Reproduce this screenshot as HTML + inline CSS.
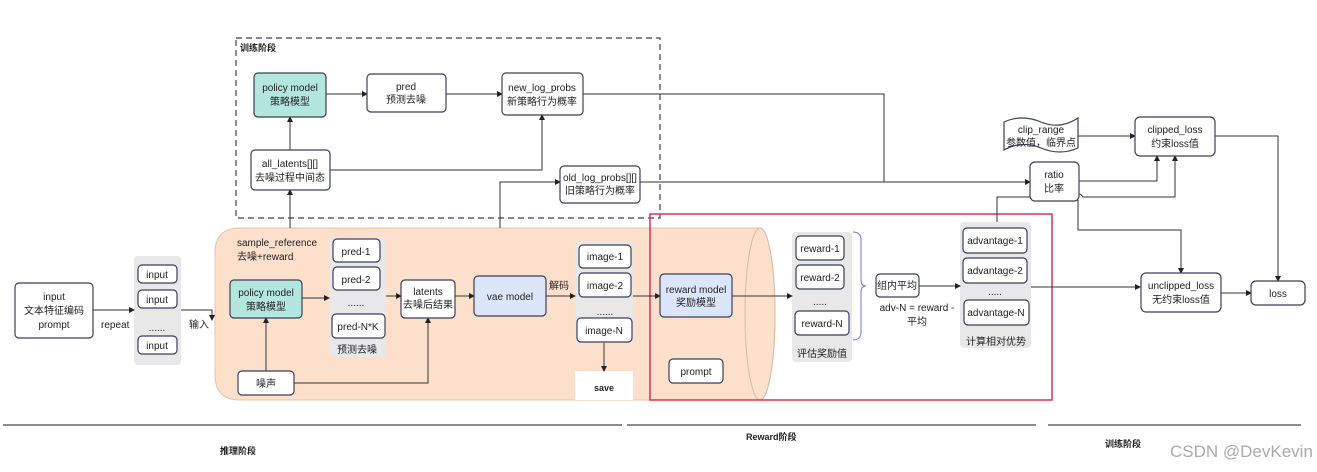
<!DOCTYPE html>
<html><head><meta charset="utf-8"><style>
html,body{margin:0;padding:0;background:#fff;}
svg{display:block;}
text{font-family:"Liberation Sans","Noto Sans CJK SC",sans-serif;font-size:10px;fill:#222;}
</style></head><body>
<svg width="1317" height="472" viewBox="0 0 1317 472" xmlns="http://www.w3.org/2000/svg">
<defs>
<marker id="a" markerWidth="6" markerHeight="6" refX="5" refY="3" orient="auto"><path d="M0,0 L6,3 L0,6z" fill="#222"/></marker>
</defs>
<!-- dashed training box -->
<rect x="236" y="38" width="424" height="180" fill="none" stroke="#3a3f5c" stroke-width="1.2" stroke-dasharray="6,4"/>
<text x="240" y="51" style="font-size:9px;font-weight:bold">训练阶段</text>
<!-- cylinder -->
<path d="M240,228 L760,228 A15,86 0 0 1 760,400 L240,400 Q215,400 215,375 L215,253 Q215,228 240,228z" fill="#fde0cc" stroke="#e6c0a8"/>
<ellipse cx="760" cy="314" rx="15" ry="86" fill="#fde0cc" stroke="#d9b8a2"/>
<!-- red rect -->
<rect x="650" y="214" width="402" height="186" fill="none" stroke="#e0304a" stroke-width="1.5"/>
<!-- gray stacks -->
<rect x="134" y="256" width="47" height="109" rx="4" fill="#e8e8e8"/>
<rect x="329" y="237" width="57" height="120" rx="4" fill="#e8e8e8"/>
<rect x="575" y="242" width="58" height="101" rx="4" fill="#e8e8e8"/>
<rect x="575" y="371" width="58" height="29" fill="#fff"/>
<rect x="792" y="232" width="60" height="130" rx="4" fill="#e8e8e8"/>
<rect x="960" y="222" width="71" height="126" rx="4" fill="#e8e8e8"/>
<!-- lines -->
<g stroke="#333" stroke-width="1" fill="none">
<path d="M93,310 H134" marker-end="url(#a)"/>
<path d="M181,310 H212 V320" marker-end="url(#a)"/>
<path d="M302,298 H329" marker-end="url(#a)"/>
<path d="M386,296 H401" marker-end="url(#a)"/>
<path d="M455,296 H474" marker-end="url(#a)"/>
<path d="M546,296 H575" marker-end="url(#a)"/>
<path d="M633,296 H660" marker-end="url(#a)"/>
<path d="M604,343 V371" marker-end="url(#a)"/>
<path d="M266,371 V318" marker-end="url(#a)"/>
<path d="M294,383 H428 V318" marker-end="url(#a)"/>
<path d="M290,228 V190" marker-end="url(#a)"/>
<path d="M290,150 V117" marker-end="url(#a)"/>
<path d="M330,170 H542 V115" marker-end="url(#a)"/>
<path d="M326,94 H367" marker-end="url(#a)"/>
<path d="M446,94 H502" marker-end="url(#a)"/>
<path d="M583,94 H884 V182"/>
<path d="M640,182 H1030" marker-end="url(#a)"/>
<path d="M500,228 V182 H560" marker-end="url(#a)"/>
<path d="M732,296 H792" marker-end="url(#a)"/>
<path d="M919,286 H960" marker-end="url(#a)"/>
<path d="M1031,287 H1140" marker-end="url(#a)"/>
<path d="M997,222 V197 H1075 q4,-6 8,0 H1175 V156" marker-end="url(#a)"/>
<path d="M1079,181 H1157 V156" marker-end="url(#a)"/>
<path d="M1078,200 V230 H1181 V273" marker-end="url(#a)"/>
<path d="M1078,136 H1135" marker-end="url(#a)"/>
<path d="M1215,136 H1278 V281" marker-end="url(#a)"/>
<path d="M1221,293 H1251" marker-end="url(#a)"/>
</g>
<path d="M853,232 q8,0 8,8 V280 q0,6 5,6 q-5,0 -5,6 V332 q0,8 -8,8" fill="none" stroke="#6a7fd0"/>
<!-- boxes -->
<g stroke="#3a3f5c" stroke-width="1.2">
<rect x="254" y="73" width="72" height="44" rx="4" fill="#b3e6dc"/>
<rect x="367" y="74" width="79" height="38" rx="4" fill="#fff"/>
<rect x="502" y="73" width="81" height="42" rx="4" fill="#fff"/>
<rect x="251" y="150" width="79" height="40" rx="4" fill="#fff"/>
<rect x="560" y="166" width="80" height="37" rx="4" fill="#fff"/>
<rect x="15" y="283" width="78" height="55" rx="4" fill="#fff"/>
<rect x="138" y="265" width="39" height="18" rx="4" fill="#fff"/>
<rect x="138" y="290" width="39" height="18" rx="4" fill="#fff"/>
<rect x="138" y="336" width="39" height="18" rx="4" fill="#fff"/>
<rect x="230" y="280" width="72" height="38" rx="4" fill="#b3e6dc"/>
<rect x="333" y="239" width="47" height="23" rx="4" fill="#fff"/>
<rect x="333" y="267" width="47" height="23" rx="4" fill="#fff"/>
<rect x="332" y="314" width="53" height="24" rx="4" fill="#fff"/>
<rect x="401" y="280" width="54" height="38" rx="4" fill="#fff"/>
<rect x="474" y="276" width="72" height="40" rx="4" fill="#dbe6fb"/>
<rect x="579" y="245" width="52" height="23" rx="4" fill="#fff"/>
<rect x="579" y="273" width="52" height="24" rx="4" fill="#fff"/>
<rect x="577" y="318" width="55" height="24" rx="4" fill="#fff"/>
<rect x="238" y="371" width="56" height="24" rx="4" fill="#fff"/>
<rect x="660" y="274" width="72" height="43" rx="4" fill="#dbe6fb"/>
<rect x="669" y="359" width="54" height="24" rx="4" fill="#fff"/>
<rect x="796" y="236" width="48" height="24" rx="4" fill="#fff"/>
<rect x="796" y="265" width="48" height="24" rx="4" fill="#fff"/>
<rect x="795" y="311" width="54" height="24" rx="4" fill="#fff"/>
<rect x="876" y="274" width="43" height="23" rx="4" fill="#fff"/>
<rect x="963" y="228" width="64" height="25" rx="4" fill="#fff"/>
<rect x="963" y="258" width="64" height="25" rx="4" fill="#fff"/>
<rect x="964" y="300" width="65" height="25" rx="4" fill="#fff"/>
<path d="M1004,122 q18,-8 37,0 t37,-4 V148 q-18,8 -37,0 t-37,2z" fill="#fff"/>
<rect x="1135" y="117" width="80" height="39" rx="5" fill="#fff"/>
<rect x="1030" y="162" width="49" height="39" rx="5" fill="#fff"/>
<rect x="1141" y="273" width="80" height="39" rx="5" fill="#fff"/>
<rect x="1251" y="281" width="54" height="24" rx="5" fill="#fff"/>
</g>
<!-- text -->
<g text-anchor="middle">
<text x="290" y="91">policy model</text><text x="290" y="105">策略模型</text>
<text x="406" y="90">pred</text><text x="406" y="103">预测去噪</text>
<text x="542" y="91">new_log_probs</text><text x="542" y="105">新策略行为概率</text>
<text x="290" y="167">all_latents[][]</text><text x="290" y="181">去噪过程中间态</text>
<text x="600" y="181">old_log_probs[][]</text><text x="600" y="194">旧策略行为概率</text>
<text x="54" y="300">input</text><text x="54" y="314">文本特征编码</text><text x="54" y="328">prompt</text>
<text x="157" y="278">input</text><text x="157" y="303">input</text><text x="157" y="331">......</text><text x="157" y="349">input</text>
<text x="266" y="296">policy model</text><text x="266" y="310">策略模型</text>
<text x="356" y="255">pred-1</text><text x="356" y="283">pred-2</text><text x="356" y="306">......</text><text x="358" y="330">pred-N*K</text><text x="357" y="353">预测去噪</text>
<text x="428" y="295">latents</text><text x="428" y="308">去噪后结果</text>
<text x="510" y="300">vae model</text>
<text x="605" y="260">image-1</text><text x="605" y="289">image-2</text><text x="605" y="315">......</text><text x="604" y="334">image-N</text>
<text x="604" y="391" style="font-weight:bold;font-size:9px">save</text>
<text x="266" y="387">噪声</text>
<text x="696" y="293">reward model</text><text x="696" y="306">奖励模型</text>
<text x="696" y="375">prompt</text>
<text x="820" y="252">reward-1</text><text x="820" y="281">reward-2</text><text x="820" y="305">.....</text><text x="822" y="327">reward-N</text><text x="822" y="357">评估奖励值</text>
<text x="897" y="289">组内平均</text>
<text x="917" y="311">adv-N = reward -</text><text x="917" y="325">平均</text>
<text x="995" y="244">advantage-1</text><text x="995" y="274">advantage-2</text><text x="995" y="295">.....</text><text x="996" y="316">advantage-N</text><text x="996" y="345">计算相对优势</text>
<text x="1041" y="133">clip_range</text><text x="1041" y="146">参数值，临界点</text>
<text x="1175" y="133">clipped_loss</text><text x="1175" y="147">约束loss值</text>
<text x="1054" y="178">ratio</text><text x="1054" y="192">比率</text>
<text x="1181" y="289">unclipped_loss</text><text x="1181" y="303">无约束loss值</text>
<text x="1278" y="297">loss</text>
</g>
<text x="101" y="328">repeat</text>
<text x="189" y="328">输入</text>
<text x="549" y="289">解码</text>
<text x="237" y="246">sample_reference</text>
<text x="237" y="260">去噪+reward</text>
<!-- bottom -->
<g stroke="#666" stroke-width="1.5">
<line x1="3" y1="425" x2="622" y2="425"/>
<line x1="627" y1="425" x2="1036" y2="425"/>
<line x1="1048" y1="425" x2="1301" y2="425"/>
</g>
<text x="220" y="454" style="font-size:9px;font-weight:bold">推理阶段</text>
<text x="746" y="440" style="font-size:9px;font-weight:bold">Reward阶段</text>
<text x="1105" y="447" style="font-size:9px;font-weight:bold">训练阶段</text>
<text x="1170" y="457" style="font-size:17px;fill:#aaa">CSDN @DevKevin</text>
</svg>
</body></html>
